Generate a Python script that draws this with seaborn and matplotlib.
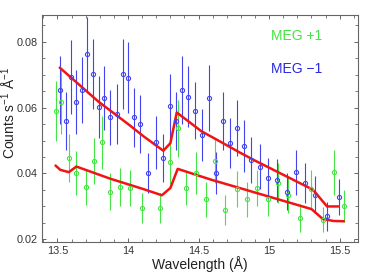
import numpy as np
import matplotlib
matplotlib.use("Agg")
import matplotlib.pyplot as plt
from matplotlib.ticker import MultipleLocator
import seaborn as sns

# MEG -1 (blue) data
wl_m1 = [13.516, 13.557, 13.597, 13.634, 13.672, 13.712, 13.750, 13.792, 13.832, 13.875,
         13.925, 13.965, 14.003, 14.045, 14.085, 14.141, 14.200, 14.250, 14.300, 14.340,
         14.385, 14.425, 14.474, 14.524, 14.571, 14.623, 14.675, 14.724, 14.774, 14.823,
         14.873, 14.932, 14.995, 15.059, 15.125, 15.191, 15.254, 15.323, 15.408, 15.492]
cts_m1 = [0.0653, 0.0560, 0.0692, 0.0617, 0.0654, 0.0761, 0.0702, 0.0602, 0.0629, 0.0570,
          0.0581, 0.0702, 0.0691, 0.0570, 0.0550, 0.0402, 0.0494, 0.0448, 0.0604, 0.0560,
          0.0653, 0.0633, 0.0591, 0.0518, 0.0628, 0.0402, 0.0560, 0.0492, 0.0537, 0.0484,
          0.0440, 0.0420, 0.0387, 0.0379, 0.0345, 0.0403, 0.0372, 0.0336, 0.0270, 0.0329]
err_m1 = [0.0103, 0.0088, 0.0112, 0.0098, 0.0100, 0.0114, 0.0106, 0.0094, 0.0098, 0.0083,
          0.0091, 0.0105, 0.0109, 0.0089, 0.0088, 0.0061, 0.0079, 0.0073, 0.0099, 0.0088,
          0.0102, 0.0092, 0.0085, 0.0079, 0.0100, 0.0064, 0.0088, 0.0076, 0.0085, 0.0079,
          0.0070, 0.0068, 0.0061, 0.0064, 0.0055, 0.0068, 0.0061, 0.0055, 0.0045, 0.0055]

# MEG +1 (green) data
wl_p1 = [13.486, 13.528, 13.578, 13.634, 13.700, 13.762, 13.814, 13.875, 13.944, 14.015,
         14.097, 14.227, 14.300, 14.352, 14.411, 14.482, 14.550, 14.616, 14.690, 14.773,
         14.844, 14.913, 14.989, 15.060, 15.130, 15.216, 15.300, 15.382, 15.460, 15.530]
cts_p1 = [0.0591, 0.0617, 0.0448, 0.0402, 0.0360, 0.0439, 0.0494, 0.0345, 0.0360, 0.0355,
          0.0296, 0.0296, 0.0435, 0.0537, 0.0355, 0.0402, 0.0322, 0.0439, 0.0290, 0.0352,
          0.0322, 0.0355, 0.0322, 0.0371, 0.0336, 0.0265, 0.0353, 0.0260, 0.0403, 0.0302]
err_p1 = [0.0091, 0.0098, 0.0073, 0.0067, 0.0055, 0.0070, 0.0079, 0.0055, 0.0058, 0.0055,
          0.0045, 0.0045, 0.0068, 0.0087, 0.0052, 0.0063, 0.0053, 0.0068, 0.0045, 0.0055,
          0.0053, 0.0055, 0.0052, 0.0061, 0.0055, 0.0042, 0.0058, 0.0039, 0.0067, 0.0048]

# model curves
wl_mod_m1 = [13.516, 13.79, 14.0, 14.106, 14.16, 14.25, 14.30, 14.345, 14.52, 14.61,
             14.79, 14.9, 15.077, 15.3, 15.32, 15.41, 15.49]
mod_m1 = [0.0721, 0.0618, 0.0550, 0.0514, 0.0497, 0.0469, 0.0492, 0.0585, 0.0528, 0.0507,
          0.0464, 0.0439, 0.0401, 0.0353, 0.0346, 0.0300, 0.0300]
wl_mod_p1 = [13.486, 13.52, 13.58, 13.634, 13.875, 14.106, 14.24, 14.30, 14.352, 14.59,
             14.79, 15.077, 15.3, 15.38, 15.455, 15.53]
mod_p1 = [0.0424, 0.0411, 0.0404, 0.0421, 0.0384, 0.0353, 0.0334, 0.0356, 0.0414, 0.0381,
          0.0356, 0.0320, 0.0292, 0.0262, 0.0256, 0.0255]

blue = '#4444ee'
green = '#44e444'
red = '#f01414'

sns.set_theme(style='ticks')
plt.rcParams['font.family'] = ['Liberation Sans', 'DejaVu Sans']
plt.rcParams['mathtext.fontset'] = 'custom'
plt.rcParams['mathtext.rm'] = 'Liberation Sans'
plt.rcParams['mathtext.it'] = 'Liberation Sans:italic'

fig = plt.figure(figsize=(3.65, 2.76), dpi=100)
ax = fig.add_axes([0.115, 0.123, 0.866, 0.823])

ax.errorbar(wl_p1, cts_p1, yerr=err_p1, fmt='o', mfc='none', mec=green, ecolor=green,
            ms=3.0, mew=0.8, elinewidth=0.8, capsize=0)
ax.errorbar(wl_m1, cts_m1, yerr=err_m1, fmt='o', mfc='none', mec=blue, ecolor=blue,
            ms=3.0, mew=0.8, elinewidth=0.8, capsize=0)

sns.lineplot(x=wl_mod_m1, y=mod_m1, color=red, lw=1.8, estimator=None, sort=False, ax=ax)
sns.lineplot(x=wl_mod_p1, y=mod_p1, color=red, lw=1.8, estimator=None, sort=False, ax=ax)

ax.set_xlim(13.39, 15.63)
ax.set_ylim(0.0192, 0.0881)
ax.xaxis.set_minor_locator(MultipleLocator(0.1))
ax.yaxis.set_minor_locator(MultipleLocator(0.005))
ax.set_xticks([13.5, 14, 14.5, 15, 15.5])
ax.set_xticklabels(['13.5', '14', '14.5', '15', '15.5'])
ax.set_yticks([0.02, 0.04, 0.06, 0.08])
ax.set_yticklabels(['0.02', '0.04', '0.06', '0.08'])

for s in ax.spines.values():
    s.set_color('#666666')
    s.set_linewidth(0.8)
ax.tick_params(which='both', direction='in', top=True, right=True, color='#666666',
               labelsize=7.8, labelcolor='#333333', pad=3)
ax.tick_params(which='major', length=3, width=0.7)
ax.tick_params(which='minor', length=2, width=0.6)

ax.set_xlabel('Wavelength (Å)', fontsize=10, labelpad=0, color='#222222')
ax.set_ylabel(r'Counts s$^{-1}$ Å$^{-1}$', fontsize=10, color='#222222')
ax.yaxis.set_label_coords(-0.075, 0.57)

ax.text(0.724, 0.907, 'MEG +1', color=green, fontsize=10, transform=ax.transAxes, va='center')
ax.text(0.724, 0.760, 'MEG \u22121', color='#2a2ae0', fontsize=10, transform=ax.transAxes, va='center')

fig.savefig('out.png', dpi=100)
